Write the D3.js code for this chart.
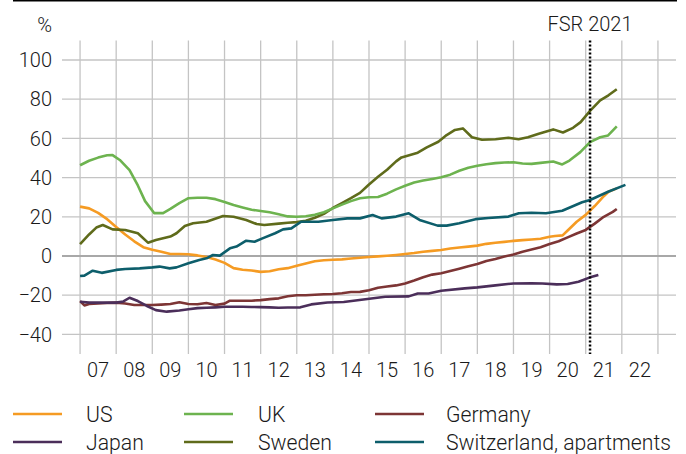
<!DOCTYPE html>
<html><head><meta charset="utf-8">
<script src="https://cdn.jsdelivr.net/npm/d3@7"></script>
<style>
body{margin:0;background:#fff;}
svg text{font-family:Roboto,"Noto Sans",sans-serif;fill:#1a1a1a;}
</style></head>
<body><svg id="c" width="686" height="454"></svg>
<script>
// Data: [year, % deviation]
const us = [[2007,25.2],[2007.25,24.3],[2007.5,22],[2007.75,18.8],[2008,14.8],[2008.25,11],[2008.5,7.5],[2008.75,4.5],[2009,3.2],[2009.25,2.2],[2009.5,1],[2009.75,1],[2010,0.9],[2010.25,0.3],[2010.5,-0.5],[2010.75,-1.8],[2011,-3.5],[2011.25,-6.2],[2011.5,-7],[2011.75,-7.4],[2012,-8.1],[2012.25,-7.8],[2012.5,-6.8],[2012.75,-6.2],[2013,-5],[2013.25,-3.8],[2013.5,-2.7],[2013.75,-2.2],[2014,-1.9],[2014.25,-1.7],[2014.5,-1.3],[2014.75,-0.9],[2015,-0.5],[2015.25,-0.2],[2015.5,0.1],[2015.75,0.5],[2016,1],[2016.25,1.5],[2016.5,2.2],[2016.75,2.6],[2017,3.1],[2017.25,3.8],[2017.5,4.3],[2017.75,4.8],[2018,5.3],[2018.25,6.2],[2018.5,6.8],[2018.75,7.2],[2019,7.7],[2019.25,8.1],[2019.5,8.4],[2019.75,8.8],[2020,9.8],[2020.15,10.2],[2020.36,10.5],[2020.5,13],[2020.75,17.5],[2021,21],[2021.25,25.5],[2021.5,30.5],[2021.63,32.8],[2021.86,34.5]];
const uk = [[2007,46.3],[2007.25,48.6],[2007.5,50.2],[2007.75,51.4],[2007.9,51.5],[2008.1,49],[2008.37,43.8],[2008.6,36],[2008.8,28],[2009.05,21.9],[2009.3,21.9],[2009.5,24],[2009.75,27],[2010,29.5],[2010.25,29.7],[2010.5,29.7],[2010.75,29],[2011,27.6],[2011.25,26],[2011.5,24.8],[2011.75,23.6],[2012,23],[2012.25,22.3],[2012.5,21.3],[2012.75,20.2],[2013,20],[2013.25,20.3],[2013.5,21],[2013.75,22.3],[2014,24.3],[2014.25,26.2],[2014.5,28],[2014.75,29.5],[2015,30],[2015.25,30.1],[2015.5,31.8],[2015.75,34],[2016,35.8],[2016.25,37.5],[2016.5,38.5],[2016.75,39.3],[2017,40.2],[2017.25,41.5],[2017.5,43.5],[2017.75,45],[2018,46],[2018.25,46.8],[2018.5,47.4],[2018.75,47.7],[2019,47.8],[2019.25,47.2],[2019.5,47],[2019.75,47.5],[2020.1,48.2],[2020.35,46.7],[2020.55,48.7],[2020.85,53],[2021.12,58.1],[2021.4,60.6],[2021.62,61.5],[2021.86,66.1]];
const germany = [[2007,-23],[2007.12,-25.2],[2007.25,-24.5],[2007.5,-24.2],[2007.75,-24],[2008,-23.8],[2008.25,-24.2],[2008.5,-25],[2008.75,-25],[2009,-25],[2009.25,-24.8],[2009.5,-24.5],[2009.75,-23.6],[2010,-24.5],[2010.25,-24.6],[2010.5,-24],[2010.75,-25],[2011,-24.3],[2011.15,-22.8],[2011.5,-22.8],[2011.75,-22.8],[2012,-22.5],[2012.25,-22],[2012.5,-21.6],[2012.75,-20.5],[2013,-20],[2013.25,-20],[2013.5,-19.8],[2013.75,-19.5],[2014,-19.4],[2014.25,-19],[2014.5,-18.4],[2014.75,-18.3],[2015,-17.5],[2015.25,-16.2],[2015.5,-15.6],[2015.75,-15],[2016,-14],[2016.25,-12.5],[2016.5,-10.8],[2016.75,-9.5],[2017,-8.8],[2017.25,-7.7],[2017.5,-6.5],[2017.75,-5.2],[2018,-4.1],[2018.25,-2.5],[2018.5,-1.5],[2018.75,-0.3],[2019,0.8],[2019.25,2.2],[2019.5,3.3],[2019.75,4.5],[2020,6.1],[2020.25,7.5],[2020.5,9.5],[2020.75,11.5],[2021,13.3],[2021.25,16.5],[2021.5,20],[2021.75,22.5],[2021.86,24]];
const japan = [[2007,-23.3],[2007.25,-23.8],[2007.5,-23.8],[2007.75,-23.8],[2008,-23.8],[2008.2,-23.2],[2008.37,-21.3],[2008.6,-23],[2008.85,-25.5],[2009.1,-27.6],[2009.4,-28.4],[2009.75,-27.8],[2010,-27.2],[2010.25,-26.6],[2010.5,-26.4],[2010.75,-26.2],[2011,-25.9],[2011.25,-25.9],[2011.5,-25.9],[2011.75,-26],[2012,-26.1],[2012.25,-26.2],[2012.5,-26.4],[2012.75,-26.3],[2013.1,-26.2],[2013.4,-24.7],[2013.85,-23.7],[2014.3,-23.5],[2014.9,-22.1],[2015.45,-20.8],[2016.1,-20.6],[2016.35,-19.1],[2016.65,-19.1],[2017,-17.7],[2017.65,-16.5],[2018,-16],[2018.5,-15],[2019,-14],[2019.5,-13.9],[2019.8,-14],[2020.2,-14.5],[2020.5,-14.3],[2020.8,-13.1],[2021.12,-10.9],[2021.35,-9.7]];
const sweden = [[2007,6.1],[2007.25,11],[2007.45,14.5],[2007.63,15.8],[2007.9,13.6],[2008.25,13.3],[2008.6,11.6],[2008.88,6.8],[2009.1,8.2],[2009.5,9.9],[2009.67,11.6],[2009.9,15.3],[2010.13,16.7],[2010.5,17.5],[2010.96,20.4],[2011.25,20],[2011.6,18.4],[2011.89,16.3],[2012.1,15.8],[2012.5,16.5],[2012.75,17],[2013,17.3],[2013.25,18],[2013.5,19.5],[2013.75,21.5],[2014,24.5],[2014.25,27],[2014.5,29.5],[2014.75,32.2],[2015,36.5],[2015.25,40.4],[2015.5,44],[2015.75,48.3],[2015.9,50.3],[2016.35,52.7],[2016.6,55.4],[2016.92,58.3],[2017.15,61.7],[2017.38,64.3],[2017.6,65.1],[2017.85,60.6],[2018.13,59.3],[2018.5,59.6],[2018.86,60.3],[2019.14,59.6],[2019.4,60.6],[2019.7,62.4],[2020.1,64.6],[2020.37,63],[2020.65,65.4],[2020.86,68.3],[2021.12,74],[2021.4,79.4],[2021.63,82],[2021.86,85.1]];
const switzerland = [[2007,-10.2],[2007.12,-10],[2007.35,-7.5],[2007.6,-8.6],[2008,-7.1],[2008.25,-6.6],[2008.65,-6.3],[2009,-5.8],[2009.2,-5.4],[2009.48,-6.3],[2009.67,-5.8],[2010,-3.7],[2010.3,-2],[2010.5,-1.2],[2010.68,0.5],[2010.87,0.2],[2011.15,3.9],[2011.33,4.8],[2011.6,7.8],[2011.83,7.3],[2012.05,9],[2012.4,11.6],[2012.62,13.6],[2012.85,14.1],[2013.12,17.5],[2013.6,17.5],[2014,18.4],[2014.4,19.2],[2014.75,19.2],[2015.1,20.9],[2015.35,19.2],[2015.75,20.1],[2016.1,21.8],[2016.4,18.4],[2016.9,15.5],[2017.15,15.5],[2017.5,16.7],[2017.95,18.8],[2018.3,19.4],[2018.86,20.1],[2019.15,21.8],[2019.5,22.1],[2019.9,21.8],[2020.35,23.1],[2020.9,27.4],[2021.12,28.6],[2021.62,32.8],[2022.1,36.3]];

const seriesNames = ["US","UK","Germany","Japan","Sweden","Switzerland, apartments"];
const seriesData = [us, uk, germany, japan, sweden, switzerland];
const seriesColors = ["#f59b23","#6db34f","#7d3535","#4b2e5a","#5f6b1b","#0d5e6b"];
const legendOrder = [0,1,2,3,4,5];
const yTicks = [-40,-20,0,20,40,60,80,100];
const xYears = [2007,2008,2009,2010,2011,2012,2013,2014,2015,2016,2017,2018,2019,2020,2021,2022,2023];
const xLabels = ["07","08","09","10","11","12","13","14","15","16","17","18","19","20","21","22"];
const fsrDate = 2021.12;

const svg = d3.select("#c");
const x = d3.scaleLinear().domain([2006.5, 2023.5]).range([62, 676]);
const y = d3.scaleLinear().domain([-50, 110]).range([354, 40.4]);

// top rule
svg.append("line").attr("x1",13).attr("x2",677).attr("y1",0.75).attr("y2",0.75)
  .attr("stroke","#000").attr("stroke-width",1.5);

// grid
svg.append("g").selectAll("line").data(xYears).join("line")
  .attr("x1",d=>x(d)).attr("x2",d=>x(d)).attr("y1",y(110)).attr("y2",y(-50))
  .attr("stroke","#c4c4c4").attr("stroke-width",1.3);
svg.append("g").selectAll("line").data(yTicks).join("line")
  .attr("x1",x(2006.5)).attr("x2",x(2023.5)).attr("y1",d=>y(d)).attr("y2",d=>y(d))
  .attr("stroke",d=>d===0?"#a8a8a8":"#c4c4c4").attr("stroke-width",d=>d===0?2.2:1.3);

// axes labels
svg.append("g").selectAll("text").data(yTicks).join("text")
  .attr("x",52).attr("y",d=>y(d)).attr("dy","0.36em").attr("text-anchor","end")
  .attr("font-size",20).attr("font-weight",300).text(d=>d<0?"\u2212"+Math.abs(d):d);
svg.append("g").selectAll("text").data(xLabels).join("text")
  .attr("x",(d,i)=>x(xYears[i]+0.5)).attr("y",377).attr("text-anchor","middle")
  .attr("font-size",20).attr("font-weight",300).text(d=>d);
svg.append("text").attr("x",52).attr("y",32).attr("text-anchor","end")
  .attr("font-size",20).attr("font-weight",300).text("%");

// lines
const line = d3.line().x(d=>x(d[0])).y(d=>y(d[1]));
const order = [2,3,0,4,1,5];
svg.append("g").selectAll("path").data(order).join("path")
  .attr("d",i=>line(seriesData[i])).attr("fill","none")
  .attr("stroke",i=>seriesColors[i]).attr("stroke-width",2.6)
  .attr("stroke-linejoin","round");

// FSR line
svg.append("line").attr("x1",x(fsrDate)).attr("x2",x(fsrDate)).attr("y1",y(110)).attr("y2",y(-50))
  .attr("stroke","#000").attr("stroke-width",2.5).attr("stroke-dasharray","2,2");
svg.append("text").attr("x",x(fsrDate)).attr("y",31).attr("text-anchor","middle")
  .attr("font-size",20).attr("font-weight",300).text("FSR 2021");

// legend
const colX = [13,184,375], textX=[86,258,446], rowY=[414,442];
const lg = svg.append("g").selectAll("g").data(legendOrder).join("g");
lg.append("line").attr("x1",(d,i)=>colX[i%3]).attr("x2",(d,i)=>colX[i%3]+49)
  .attr("y1",(d,i)=>rowY[Math.floor(i/3)]).attr("y2",(d,i)=>rowY[Math.floor(i/3)])
  .attr("stroke",d=>seriesColors[d]).attr("stroke-width",2.6);
lg.append("text").attr("x",(d,i)=>textX[i%3]).attr("y",(d,i)=>rowY[Math.floor(i/3)]).attr("dy","0.36em")
  .attr("font-size",21.2).attr("font-weight",300).text(d=>seriesNames[d]);
</script></body></html>
